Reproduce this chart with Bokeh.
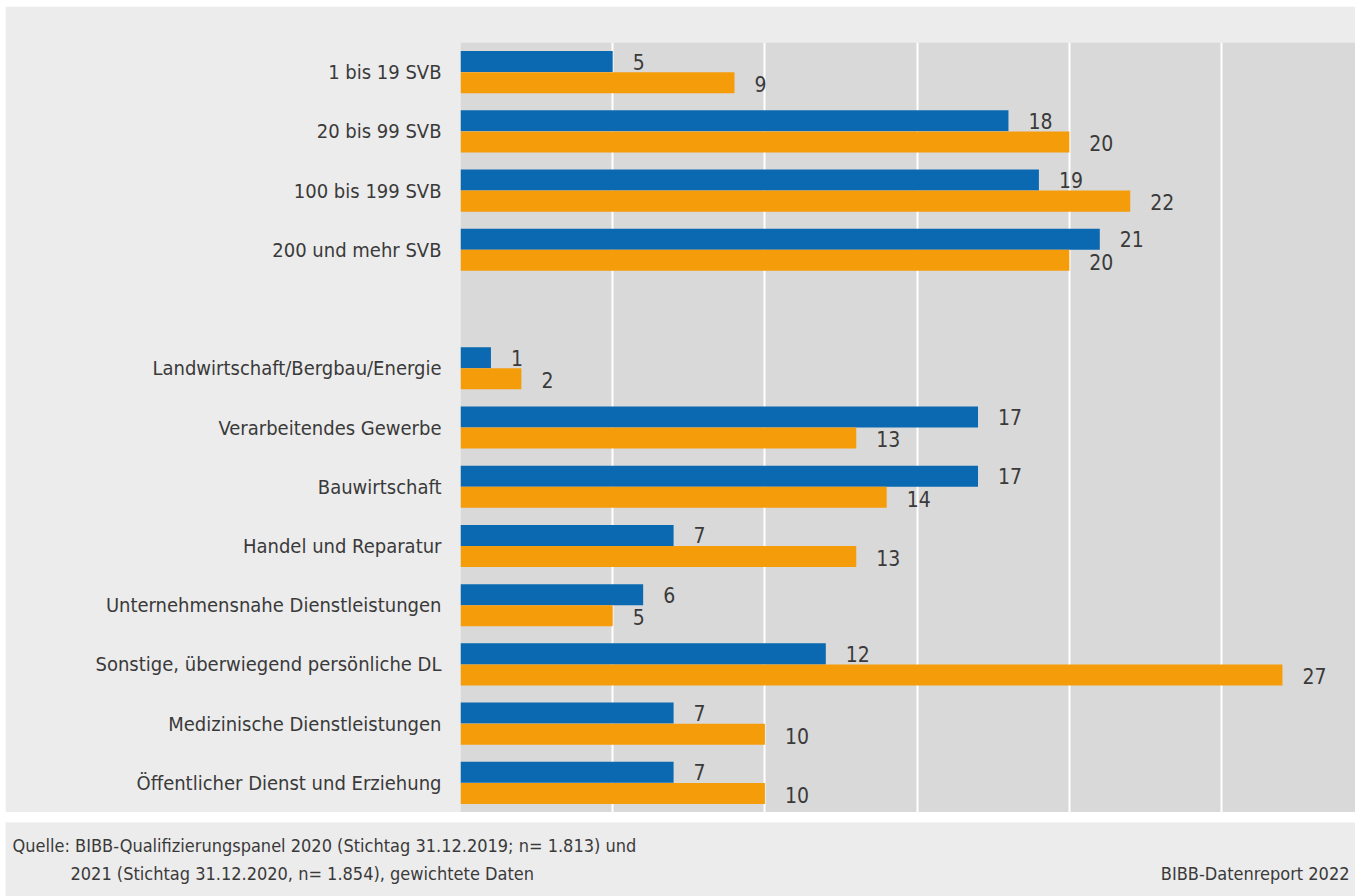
from bokeh.plotting import figure
from bokeh.models import ColumnDataSource, FactorRange, Range1d, FixedTicker, Label
from bokeh.transform import dodge
from bokeh.layouts import column
from bokeh.core.properties import value
from bokeh.embed import file_html
from bokeh.resources import INLINE

categories = [
    "1 bis 19 SVB",
    "20 bis 99 SVB",
    "100 bis 199 SVB",
    "200 und mehr SVB",
    " ",
    "Landwirtschaft/Bergbau/Energie",
    "Verarbeitendes Gewerbe",
    "Bauwirtschaft",
    "Handel und Reparatur",
    "Unternehmensnahe Dienstleistungen",
    "Sonstige, überwiegend persönliche DL",
    "Medizinische Dienstleistungen",
    "Öffentlicher Dienst und Erziehung",
]
values_2020 = [5, 18, 19, 21, None, 1, 17, 17, 7, 6, 12, 7, 7]
values_2021 = [9, 20, 22, 20, None, 2, 13, 14, 13, 5, 27, 10, 10]
grid_ticks = [5, 10, 15, 20, 25]

FONT = "'DejaVu Sans Condensed', 'Liberation Sans Narrow', sans-serif"
TEXT_COLOR = "#3a3a3a"
BLUE = "#0a69b0"
ORANGE = "#f59c0a"

rows = [i for i, v in enumerate(values_2020) if v is not None]
src = ColumnDataSource(dict(
    cat=[categories[i] for i in rows],
    v2020=[values_2020[i] for i in rows],
    v2021=[values_2021[i] for i in rows],
    l2020=[str(values_2020[i]) for i in rows],
    l2021=[str(values_2021[i]) for i in rows],
))

p = figure(
    width=1350, height=806,
    y_range=FactorRange(factors=list(reversed(categories))),
    x_range=Range1d(0, 29.4),
    output_backend="svg", toolbar_location=None,
    min_border_left=455, min_border_top=36, min_border_bottom=0, min_border_right=0,
)
p.frame_align = False
p.margin = (6, 0, 0, 5)
p.background_fill_color = "#d9d9d9"
p.border_fill_color = "#ececec"
p.outline_line_color = None

p.hbar(y=dodge("cat", 0.178, range=p.y_range), right="v2020", left=0, height=0.355,
       source=src, fill_color=BLUE, line_color=None, legend_label="2020")
p.hbar(y=dodge("cat", -0.178, range=p.y_range), right="v2021", left=0, height=0.355,
       source=src, fill_color=ORANGE, line_color=None, legend_label="2021")

p.text(x="v2020", y=dodge("cat", 0.178, range=p.y_range), text="l2020", source=src,
       x_offset=20, text_align="left", text_baseline="middle",
       text_font=value(FONT), text_font_size="21px", text_color=TEXT_COLOR)
p.text(x="v2021", y=dodge("cat", -0.2, range=p.y_range), text="l2021", source=src,
       x_offset=20, text_align="left", text_baseline="middle",
       text_font=value(FONT), text_font_size="21px", text_color=TEXT_COLOR)

p.legend.visible = False

p.xaxis.visible = False
p.xgrid.ticker = FixedTicker(ticks=grid_ticks)
p.xgrid.grid_line_color = "white"
p.xgrid.grid_line_width = 2
p.ygrid.grid_line_color = None

p.yaxis.axis_line_color = None
p.yaxis.major_tick_line_color = None
p.yaxis.minor_tick_line_color = None
p.yaxis.major_tick_out = 0
p.yaxis.major_tick_in = 0
p.yaxis.major_label_standoff = 19
p.yaxis.major_label_text_font = FONT
p.yaxis.major_label_text_font_size = "20px"
p.yaxis.major_label_text_color = TEXT_COLOR

footer = figure(
    width=1350, height=74, x_range=Range1d(0, 1), y_range=Range1d(0, 1),
    output_backend="svg", toolbar_location=None,
    min_border=0,
)
footer.frame_align = False
footer.margin = (10, 0, 0, 5)
footer.background_fill_color = "#ececec"
footer.border_fill_color = "#ececec"
footer.outline_line_color = None
footer.xaxis.visible = False
footer.yaxis.visible = False
footer.grid.visible = False

for txt, x, y, align in [
    ("Quelle: BIBB-Qualifizierungspanel 2020 (Stichtag 31.12.2019; n= 1.813) und", 7, 51, "left"),
    ("2021 (Stichtag 31.12.2020, n= 1.854), gewichtete Daten", 65, 23, "left"),
    ("BIBB-Datenreport 2022", 1344, 23, "right"),
]:
    footer.add_layout(Label(x=x, y=y, x_units="screen", y_units="screen", text=txt,
                            text_font=FONT, text_font_size="18px", text_color=TEXT_COLOR,
                            text_baseline="middle", text_align=align))

layout = column(p, footer, spacing=0)
open("out.html", "w").write(file_html(layout, INLINE))
